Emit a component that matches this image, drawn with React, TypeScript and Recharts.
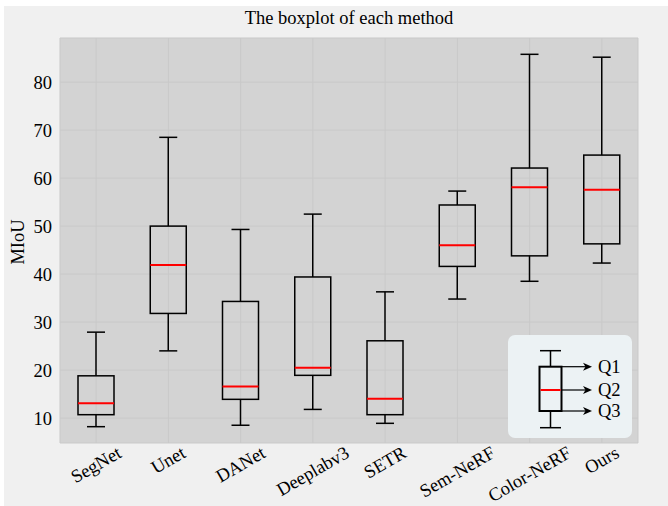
import { ComposedChart, Bar, XAxis, YAxis, CartesianGrid } from "recharts";

const methods = ["SegNet", "Unet", "DANet", "Deeplabv3", "SETR", "Sem-NeRF", "Color-NeRF", "Ours"];
const whiskerLow = [8.2, 24.0, 8.5, 11.8, 8.9, 34.8, 38.5, 42.3];
const q1 = [10.7, 31.8, 13.9, 18.9, 10.7, 41.6, 43.8, 46.3];
const median = [13.1, 41.9, 16.6, 20.5, 14.0, 46.0, 58.1, 57.6];
const q3 = [18.8, 50.0, 34.3, 39.4, 26.1, 54.4, 62.1, 64.8];
const whiskerHigh = [27.9, 68.5, 49.3, 52.5, 36.3, 57.3, 85.8, 85.2];
const yTicks = [10, 20, 30, 40, 50, 60, 70, 80];

const data = methods.map((name, i) => ({
  name,
  low: whiskerLow[i],
  q1: q1[i],
  median: median[i],
  q3: q3[i],
  high: whiskerHigh[i],
}));

const FONT = "'Liberation Serif', 'Times New Roman', serif";
const FS = 18.5;

let ctx: CanvasRenderingContext2D | null = null;
function textWidth(s: string) {
  if (!ctx) ctx = document.createElement("canvas").getContext("2d");
  if (!ctx) return s.length * 8;
  ctx.font = `${FS}px ${FONT}`;
  return ctx.measureText(s).width;
}

// box drawn inside the [low, high] range bar, other stats mapped linearly
function BoxShape(props: any) {
  const { x, y, width, height, payload } = props;
  const { low, high } = payload;
  const py = (v: number) => y + ((high - v) / (high - low)) * height;
  const cx = x + width / 2;
  const half = width / 2;
  const cap = width / 4;
  return (
    <g>
      <line x1={cx} x2={cx} y1={py(high)} y2={py(payload.q3)} stroke="#000" strokeWidth={1.5} />
      <line x1={cx} x2={cx} y1={py(payload.q1)} y2={py(low)} stroke="#000" strokeWidth={1.5} />
      <line x1={cx - cap} x2={cx + cap} y1={py(high)} y2={py(high)} stroke="#000" strokeWidth={1.5} />
      <line x1={cx - cap} x2={cx + cap} y1={py(low)} y2={py(low)} stroke="#000" strokeWidth={1.5} />
      <rect
        x={cx - half}
        y={py(payload.q3)}
        width={width}
        height={py(payload.q1) - py(payload.q3)}
        fill="none"
        stroke="#000"
        strokeWidth={1.5}
      />
      <line x1={cx - half} x2={cx + half} y1={py(payload.median)} y2={py(payload.median)} stroke="#ff0000" strokeWidth={2} />
    </g>
  );
}

function XTick({ x, y, payload }: any) {
  const w = textWidth(payload.value);
  const h = w * 0.5 + 12 * 0.866;
  const cy = y + h / 2 - 5;
  return (
    <text
      x={x}
      y={cy}
      transform={`rotate(-30 ${x} ${cy})`}
      textAnchor="middle"
      dominantBaseline="central"
      fontFamily={FONT}
      fontSize={FS}
      fill="#000"
    >
      {payload.value}
    </text>
  );
}

function KeyBox() {
  const arrows = [
    { y: 366.7, label: "Q1" },
    { y: 390, label: "Q2" },
    { y: 411, label: "Q3" },
  ];
  return (
    <svg width={668} height={506} style={{ position: "absolute", left: 0, top: 0, pointerEvents: "none" }}>
      <rect x={508} y={335} width={124} height={103} rx={7} fill="#ecf2f4" />
      <line x1={550.5} x2={550.5} y1={350.7} y2={366.7} stroke="#000" strokeWidth={1.5} />
      <line x1={550.5} x2={550.5} y1={411} y2={427.7} stroke="#000" strokeWidth={1.5} />
      <line x1={540} x2={561} y1={350.7} y2={350.7} stroke="#000" strokeWidth={1.5} />
      <line x1={540} x2={561} y1={427.7} y2={427.7} stroke="#000" strokeWidth={1.5} />
      <rect x={539.5} y={366.7} width={22} height={44.3} fill="none" stroke="#000" strokeWidth={2} />
      <line x1={540.5} x2={560.5} y1={390} y2={390} stroke="#ff0000" strokeWidth={2} />
      {arrows.map((a) => (
        <g key={a.label}>
          <line x1={561.5} x2={587} y1={a.y} y2={a.y} stroke="#000" strokeWidth={1.2} />
          <polygon points={`${592},${a.y} ${583},${a.y - 4} ${585.5},${a.y} ${583},${a.y + 4}`} fill="#000" />
          <text x={598} y={a.y} dominantBaseline="central" fontFamily={FONT} fontSize={FS} fill="#000">
            {a.label}
          </text>
        </g>
      ))}
    </svg>
  );
}

export default function App() {
  return (
    <div style={{ position: "absolute", left: 0, top: 0, width: 668, height: 506, background: "#fff", fontFamily: FONT }}>
      <div style={{ position: "absolute", left: 4, top: 6, width: 664, height: 500, background: "#f0f0f0" }} />
      <div
        style={{
          position: "absolute",
          left: 60,
          width: 578,
          top: 8,
          textAlign: "center",
          fontSize: FS,
          lineHeight: "20px",
          color: "#000",
        }}
      >
        The boxplot of each method
      </div>
      <div
        style={{
          position: "absolute",
          left: 18,
          top: 242,
          transform: "translate(-50%, -50%) rotate(-90deg)",
          fontSize: FS,
          color: "#000",
          whiteSpace: "nowrap",
        }}
      >
        MIoU
      </div>
      <div style={{ position: "absolute", left: 0, top: 0 }}>
        <ComposedChart width={668} height={506} data={data} margin={{ top: 38, right: 30, bottom: 0, left: 0 }}>
          <CartesianGrid fill="#d3d3d3" stroke="#c9c9c9" strokeWidth={1} />
          <XAxis
            dataKey="name"
            height={63}
            tickLine={false}
            axisLine={false}
            interval={0}
            tick={<XTick />}
          />
          <YAxis
            type="number"
            domain={[4.8, 89.2]}
            ticks={yTicks}
            width={60}
            tickLine={false}
            axisLine={false}
            allowDataOverflow
            tick={{ fontFamily: FONT, fontSize: FS, fill: "#000" }}
          />
          <Bar
            dataKey={(d: any) => [d.low, d.high]}
            barSize={36}
            shape={<BoxShape />}
            isAnimationActive={false}
          />
        </ComposedChart>
      </div>
      <KeyBox />
    </div>
  );
}
